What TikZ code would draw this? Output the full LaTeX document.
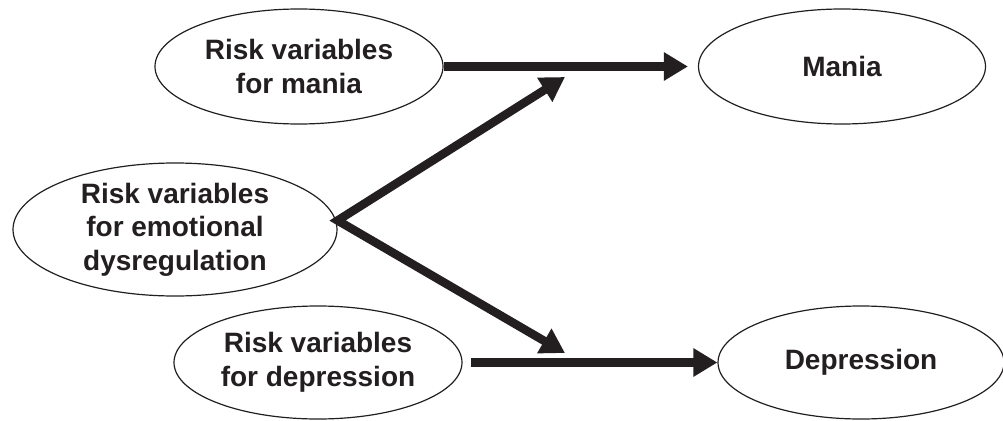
\documentclass[tikz,border=0pt]{standalone}
\usepackage{fontspec}
\setmainfont{Liberation Sans}
\usetikzlibrary{shapes.geometric,arrows.meta}
\definecolor{ink}{HTML}{231F20}
\tikzset{
  oval/.style={ellipse, draw=ink, line width=1.2pt, inner sep=0pt, align=center,
    text=ink, font=\fontsize{28}{33.5}\selectfont\bfseries},
  arr/.style={draw=ink, line width=8.5pt, -{Triangle[length=24pt,width=27pt]}},
  arrtwo/.style={draw=ink, line width=8.5pt, line join=miter,
    {Triangle[length=24pt,width=27pt]}-{Triangle[length=24pt,width=27pt]}},
}
\begin{document}
\begin{tikzpicture}[x=1pt,y=-1pt]
\useasboundingbox (0,0) rectangle (1003,420);
\node[oval, minimum width=288pt, minimum height=115pt] (rm) at (299,66.5) {Risk variables\\for mania};
\node[oval, minimum width=287pt, minimum height=115pt] (mania) at (842,66.5) {Mania};
\node[oval, minimum width=324pt, minimum height=133pt] (emo) at (175,229.5) {Risk variables\\for emotional\\dysregulation};
\node[oval, minimum width=288pt, minimum height=113pt] (rd) at (318,362.5) {Risk variables\\for depression};
\node[oval, minimum width=286pt, minimum height=113pt] (dep) at (861,362.5) {Depression};
\coordinate (v) at ([yshift=9pt]emo.east);
\coordinate (mtip) at (565,77);
\coordinate (dtip) at (565,353);
\draw[arr, shorten >=10pt] (rm.east) -- (mania.west);
\draw[arr, shorten <=8pt] (rd.east) -- (dep.west);
\draw[arrtwo] (mtip) -- (v) -- (dtip);
\end{tikzpicture}
\end{document}
